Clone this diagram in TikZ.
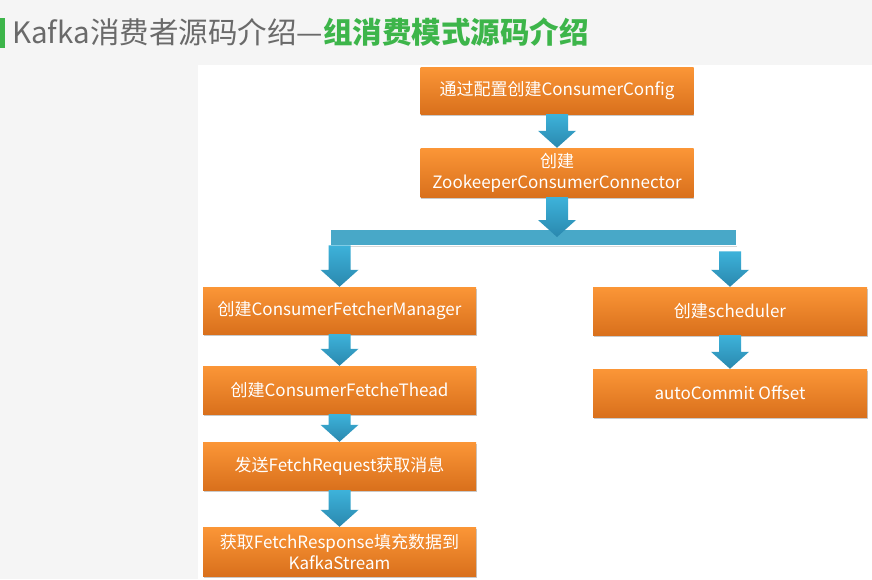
\documentclass[tikz,border=0pt]{standalone}
\usepackage{fontspec}
\setmainfont{Noto Sans CJK SC}
\usetikzlibrary{calc,shadows}
\definecolor{pagebg}{HTML}{F5F5F5}
\definecolor{titlegray}{HTML}{6A6A6A}
\definecolor{titlegreen}{HTML}{3DB54A}
\definecolor{boxtop}{HTML}{FB9637}
\definecolor{boxbot}{HTML}{D9701C}
\definecolor{arrtop}{HTML}{3DB2DA}
\definecolor{arrbot}{HTML}{2A88AE}
\definecolor{barblue}{HTML}{48A8C8}
\newcommand\blockarr[2]{%
  \shade[top color=arrtop, bottom color=arrbot]
    let \p1=(#1), \p2=(#2) in
    (\x1-11pt,\y1) -- (\x1+11pt,\y1) -- (\x1+11pt,\y2+17pt) -- (\x1+19pt,\y2+17pt)
    -- (\x1,\y2) -- (\x1-19pt,\y2+17pt) -- (\x1-11pt,\y2+17pt) -- cycle;}
\begin{document}
\begin{tikzpicture}[x=1pt,y=-1pt,
  box/.style={rectangle, minimum width=273pt, minimum height=48pt, inner sep=2pt,
    top color=boxtop, bottom color=boxbot, text=white, align=center,
    font=\fontsize{17}{21}\selectfont,
    drop shadow={shadow xshift=0.5pt, shadow yshift=-2pt, opacity=0.35, fill=black!60}},
  titletxt/.style={inner sep=0pt, font=\fontsize{29.5}{33}\selectfont}]
\useasboundingbox (0,0) rectangle (872,579);
\fill[pagebg] (0,0) rectangle (872,579);
\fill[white] (198,65) rectangle (872,579);
% title
\fill[titlegreen] (0,18) rectangle (4.5,48);
\node[titletxt, text=titlegray, anchor=base west] (t1) at (12,43) {Kafka消费者源码介绍—};
\node[titletxt, text=titlegreen, anchor=base west, font=\fontsize{29.5}{33}\selectfont\bfseries] (t2) at (t1.base east) {组消费模式源码介绍};
% boxes
\node[box, minimum height=47pt] (b1) at (557,90.5) {通过配置创建ConsumerConfig};
\node[box, minimum height=49pt] (b2) at (557,172.5) {创建\\ZookeeperConsumerConnector};
\node[rectangle, minimum width=406pt, minimum height=16pt, inner sep=0pt, fill=barblue, draw=white, line width=0.8pt,
  drop shadow={shadow xshift=0.5pt, shadow yshift=-1.5pt, opacity=0.25, fill=black!60}] (bar) at (533,237) {};
\node[box, minimum height=47pt] (b3) at (339.5,310.5) {创建ConsumerFetcherManager};
\node[box] (b4) at (339.5,390) {创建ConsumerFetcheThead};
\node[box] (b5) at (339.5,466) {发送FetchRequest获取消息};
\node[box, minimum height=49pt] (b6) at (339.5,551.5) {获取FetchResponse填充数据到\\KafkaStream};
\node[box, minimum width=274pt] (b7) at (730,311) {创建scheduler};
\node[box, minimum width=274pt] (b8) at (730,393) {autoCommit Offset};
% arrows
\coordinate (barhit) at (b2.south |- bar.center);
\coordinate (barL) at (bar.south -| b3.north);
\coordinate (barR) at ($(bar.south -| b7.north)+(0,6)$);
\blockarr{b1.south}{b2.north}
\blockarr{b2.south}{barhit}
\blockarr{barL}{b3.north}
\blockarr{barR}{b7.north}
\blockarr{b3.south}{b4.north}
\blockarr{b4.south}{b5.north}
\blockarr{b5.south}{b6.north}
\blockarr{b7.south}{b8.north}
\end{tikzpicture}
\end{document}
